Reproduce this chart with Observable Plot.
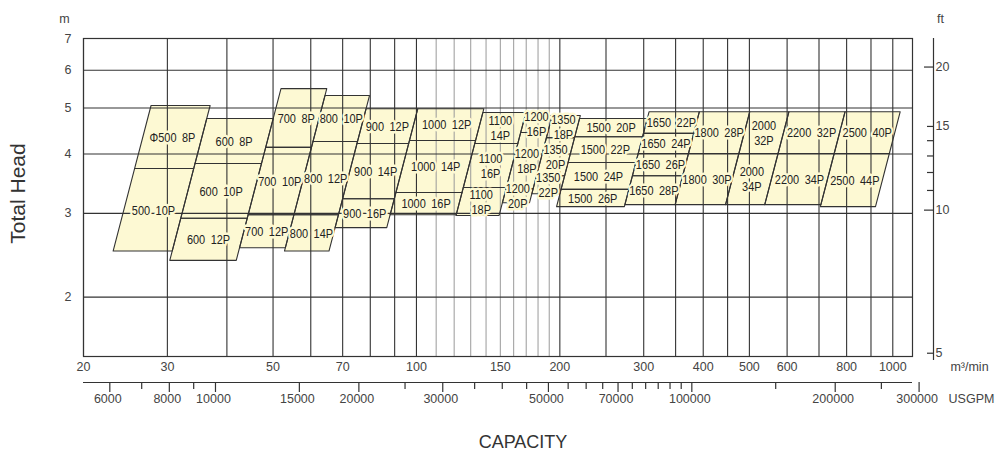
<!DOCTYPE html>
<html><head><meta charset="utf-8">
<script src="https://cdn.jsdelivr.net/npm/d3@7"></script>
<script src="https://cdn.jsdelivr.net/npm/@observablehq/plot@0.6"></script>
<style>body{margin:0;background:#fff}#chart svg{display:block}</style>
</head><body><div id="chart"></div>
<script>
// Pump models (columns), left→right
const models = [500, 600, 700, 800, 900, 1000, 1100, 1200, 1350, 1500, 1650, 1800, 2000, 2200, 2500];
// Capacity (m3/min) of the slanted column edges, read at a head of 3 m
const edgeQ = [24.2, 32.2, 44.4, 55.4, 68.7, 88.2, 121.4, 149.5, 170.4, 195.2, 270.9, 345.4, 440.7, 532.6, 698.6, 912];
const edgeRefHead = 3;
const edgeSlant = 0.26;
// Head range of each column (m)
const topHead = [5.06, 4.75, 5.49, 5.31, 4.98, 4.98, 4.89, 4.82, 4.82, 4.75, 4.91, 4.91, 4.91, 4.91, 4.91];
const bottomHead = [2.50, 2.39, 2.54, 2.50, 2.80, 2.98, 2.97, 3.16, 3.30, 3.10, 3.13, 3.13, 3.13, 3.13, 3.10];
// Pole counts per column (top → bottom) and the heads dividing them
const poles = [[8, 10], [8, 10, 12], [8, 10, 12], [10, 12, 14], [12, 14, 16], [12, 14, 16], [14, 16, 18], [16, 18, 20], [18, 20, 22], [20, 22, 24, 26], [22, 24, 26, 28], [28, 30], [32, 34], [32, 34], [40, 44]];
const dividers = [[3.73], [3.82, 2.93], [4.13, 2.98], [4.25, 2.98], [4.21, 3.22], [4.27, 3.32], [4.21, 3.40], [4.44, 3.38], [4.33, 3.60], [4.35, 3.84, 3.37], [4.42, 4.01, 3.60], [4.01], [4.01], [4.01], [4.01]];
const twoLineModels = [1100, 1200, 1350, 2000];

// Axes
const xDomain = [20, 1100];
const yDomain = [1.5, 7];
const gridMajor = [20, 30, 40, 50, 60, 70, 80, 90, 100, 200, 250, 300, 350, 400, 450, 500, 600, 700, 800, 900, 1000];
const gridMinor = [110, 120, 130, 140, 150, 160, 170, 180, 190];
const headTicks = [2, 3, 4, 5, 6, 7];
const capLabels = [20, 30, 50, 70, 100, 150, 200, 300, 400, 500, 600, 800, 1000];
const gpmTicks = [6000, 7000, 8000, 9000, 10000, 15000, 20000, 25000, 30000, 35000, 40000, 45000, 50000, 55000, 60000, 65000, 70000, 75000, 80000, 85000, 90000, 95000, 100000, 150000, 200000, 250000, 300000];
const gpmLabels = [6000, 8000, 10000, 15000, 20000, 30000, 50000, 70000, 100000, 200000, 300000];
const ftTicks = [5, 10, 11, 12, 13, 14, 15, 20];
const ftLong = [10, 20];
const ftLabels = [5, 10, 15, 20];
const GPM_PER_M3MIN = 264.172;
const M_PER_FT = 0.3048;

// Build cells
const cells = [];
models.forEach((m, i) => {
  const heads = [topHead[i], ...dividers[i], bottomHead[i]];
  poles[i].forEach((p, j) => cells.push({model: m, pole: p, col: i, hTop: heads[j], hBot: heads[j + 1]}));
});
const edgeAt = (e, h) => edgeQ[e] * Math.pow(h / edgeRefHead, edgeSlant);
const verts = cells.flatMap((c, k) => [
  {id: k, q: edgeAt(c.col, c.hBot), h: c.hBot},
  {id: k, q: edgeAt(c.col, c.hTop), h: c.hTop},
  {id: k, q: edgeAt(c.col + 1, c.hTop), h: c.hTop},
  {id: k, q: edgeAt(c.col + 1, c.hBot), h: c.hBot}
]);
const labels = cells.map(c => {
  const hc = Math.sqrt(c.hTop * c.hBot);
  const qc = Math.sqrt(edgeAt(c.col, hc) * edgeAt(c.col + 1, hc));
  const name = (c.model === 500 && c.pole === 8 ? "\u03a6" : "") + c.model;
  const sep = twoLineModels.includes(c.model) ? "\n" : "\u2002";
  return {q: qc, h: hc, text: name + sep + c.pole + "P"};
});

const cream = "#fdf9d3";
const ink = "#333";
const font = "'Liberation Sans', Arial, sans-serif";
const str = d => String(d);
const tickSize = 12.5;

const chart = Plot.plot({
  width: 1000, height: 462,
  marginLeft: 83, marginRight: 88, marginTop: 38, marginBottom: 106,
  x: {type: "log", domain: xDomain, axis: null},
  y: {type: "log", domain: yDomain, axis: null},
  style: {fontFamily: font, background: "#fff", overflow: "visible"},
  marks: [
    Plot.line(verts, {x: "q", y: "h", z: "id", curve: "linear-closed", fill: cream, stroke: "none"}),
    Plot.ruleX(gridMinor, {stroke: "#9a9a9a", strokeWidth: 1}),
    Plot.ruleX(gridMajor, {stroke: ink, strokeWidth: 1.1}),
    Plot.ruleY(headTicks, {stroke: ink, strokeWidth: 1.1}),
    Plot.line(verts, {x: "q", y: "h", z: "id", curve: "linear-closed", fill: "none", stroke: ink, strokeWidth: 1.1}),
    Plot.frame({stroke: ink, strokeWidth: 1.2}),
    Plot.text(labels, {x: "q", y: "h", text: "text", className: "cell-label", fontSize: 13.5, lineHeight: 1.1, fill: "#222", stroke: cream, strokeWidth: 5}),
    // left axis
    Plot.text(headTicks, {y: d => d, text: str, frameAnchor: "left", dx: -12, textAnchor: "end", fontSize: tickSize, fill: "#444"}),
    Plot.text(["m"], {frameAnchor: "top-left", dx: -19, dy: -24, textAnchor: "middle", fontSize: tickSize, fill: "#444"}),
    Plot.text(["Total Head"], {frameAnchor: "left", dx: -65, dy: -4, textAnchor: "middle", rotate: -90, fontSize: 21, fill: "#333"}),
    // bottom m3/min labels
    Plot.text(capLabels, {x: d => d, text: str, frameAnchor: "bottom", dy: 14, fontSize: tickSize, fill: "#444"}),
    Plot.text(["m\u00b3/min"], {frameAnchor: "bottom-right", dx: 57, dy: 14, textAnchor: "middle", fontSize: tickSize, fill: "#444"}),
    // USGPM axis
    Plot.ruleY([yDomain[0]], {dy: 26, stroke: ink, strokeWidth: 1.2}),
    Plot.ruleX(gpmTicks.filter(d => !gpmLabels.includes(d)), {x: d => d / GPM_PER_M3MIN, y1: yDomain[0], y2: yDomain[0], dy: 26, insetTop: 0, insetBottom: -7, stroke: ink, strokeWidth: 1.2}),
    Plot.ruleX(gpmLabels, {x: d => d / GPM_PER_M3MIN, y1: yDomain[0], y2: yDomain[0], dy: 26, insetTop: 0, insetBottom: -10, stroke: ink, strokeWidth: 1.2}),
    Plot.text(gpmLabels, {x: d => d / GPM_PER_M3MIN, text: str, frameAnchor: "bottom", dx: -2, dy: 46, fontSize: tickSize, fill: "#444"}),
    Plot.text(["USGPM"], {frameAnchor: "bottom-right", dx: 59, dy: 46, textAnchor: "middle", fontSize: tickSize, fill: "#444"}),
    Plot.text(["CAPACITY"], {frameAnchor: "bottom", dx: 25, dy: 91, fontSize: 18, fill: "#333"}),
    // right ft axis
    Plot.ruleX([xDomain[1]], {y1: yDomain[1], y2: yDomain[0], dx: 21, insetBottom: -4, stroke: ink, strokeWidth: 1.2}),
    Plot.ruleY(ftTicks.filter(d => !ftLong.includes(d)), {y: d => d * M_PER_FT, x1: xDomain[1], x2: xDomain[1], dx: 21, insetLeft: -6, insetRight: 0, stroke: ink, strokeWidth: 1.2}),
    Plot.ruleY(ftLong, {y: d => d * M_PER_FT, x1: xDomain[1], x2: xDomain[1], dx: 21, insetLeft: -9, insetRight: 0, stroke: ink, strokeWidth: 1.2}),
    Plot.text(ftLabels, {y: d => d * M_PER_FT, text: str, frameAnchor: "right", dx: 23, textAnchor: "start", fontSize: tickSize, fill: "#444"}),
    Plot.text(["ft"], {frameAnchor: "top-right", dx: 28, dy: -24, textAnchor: "middle", fontSize: tickSize, fill: "#444"})
  ]
});
document.getElementById("chart").append(chart);

// condense the cell labels horizontally, like the narrow face of the original
const condense = 0.81;
d3.select(chart).selectAll(".cell-label text").each(function () {
  const spans = this.querySelectorAll("tspan");
  const targets = spans.length ? Array.from(spans) : [this];
  targets.forEach(t => {
    const w = t.getComputedTextLength();
    t.setAttribute("textLength", (w * condense).toFixed(1));
    t.setAttribute("lengthAdjust", "spacingAndGlyphs");
  });
});
</script>
</body></html>
